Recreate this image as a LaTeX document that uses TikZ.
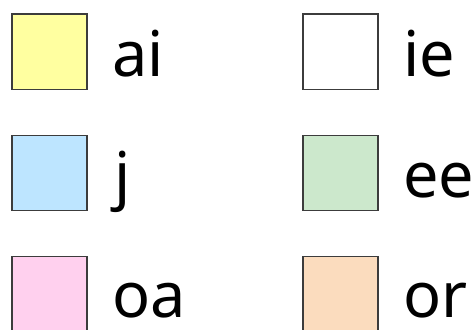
\documentclass[tikz,border=0pt]{standalone}
\usepackage{fontspec}
\setmainfont{Noto Sans}
\definecolor{cyel}{HTML}{FFFFA0}
\definecolor{cblu}{HTML}{BDE5FF}
\definecolor{cgrn}{HTML}{CCE8CC}
\definecolor{cpnk}{HTML}{FFD0EE}
\definecolor{cpch}{HTML}{FBDCBE}
\definecolor{cbrd}{HTML}{3C3C3C}
\begin{document}
\begin{tikzpicture}[x=1pt,y=-1pt,
  swatch/.style={draw=cbrd,line width=1.5pt,minimum width=75pt,minimum height=75pt,inner sep=0pt,anchor=north west},
  lbl/.style={anchor=base west,inner sep=0pt,text depth=0pt,font=\fontsize{63}{63}\selectfont}]
\useasboundingbox (0,0) rectangle (476,329);
\node[swatch,fill=cyel] (s1) at (11,13.5) {};
\node[swatch,fill=white] (s2) at (302,13.5) {};
\node[swatch,fill=cblu] (s3) at (11,134.5) {};
\node[swatch,fill=cgrn] (s4) at (302,134.5) {};
\node[swatch,fill=cpnk] (s5) at (11,255.5) {};
\node[swatch,fill=cpch] (s6) at (302,255.5) {};
\node[lbl] (t1) at (112,77) {ai};
\node[lbl] (t2) at (403,77) {ie};
\node[lbl] (t3) at (114,197) {j};
\node[lbl] (t4) at (403,197) {ee};
\node[lbl] (t5) at (112,317) {oa};
\node[lbl] (t6) at (403,317) {or};
\end{tikzpicture}
\end{document}
